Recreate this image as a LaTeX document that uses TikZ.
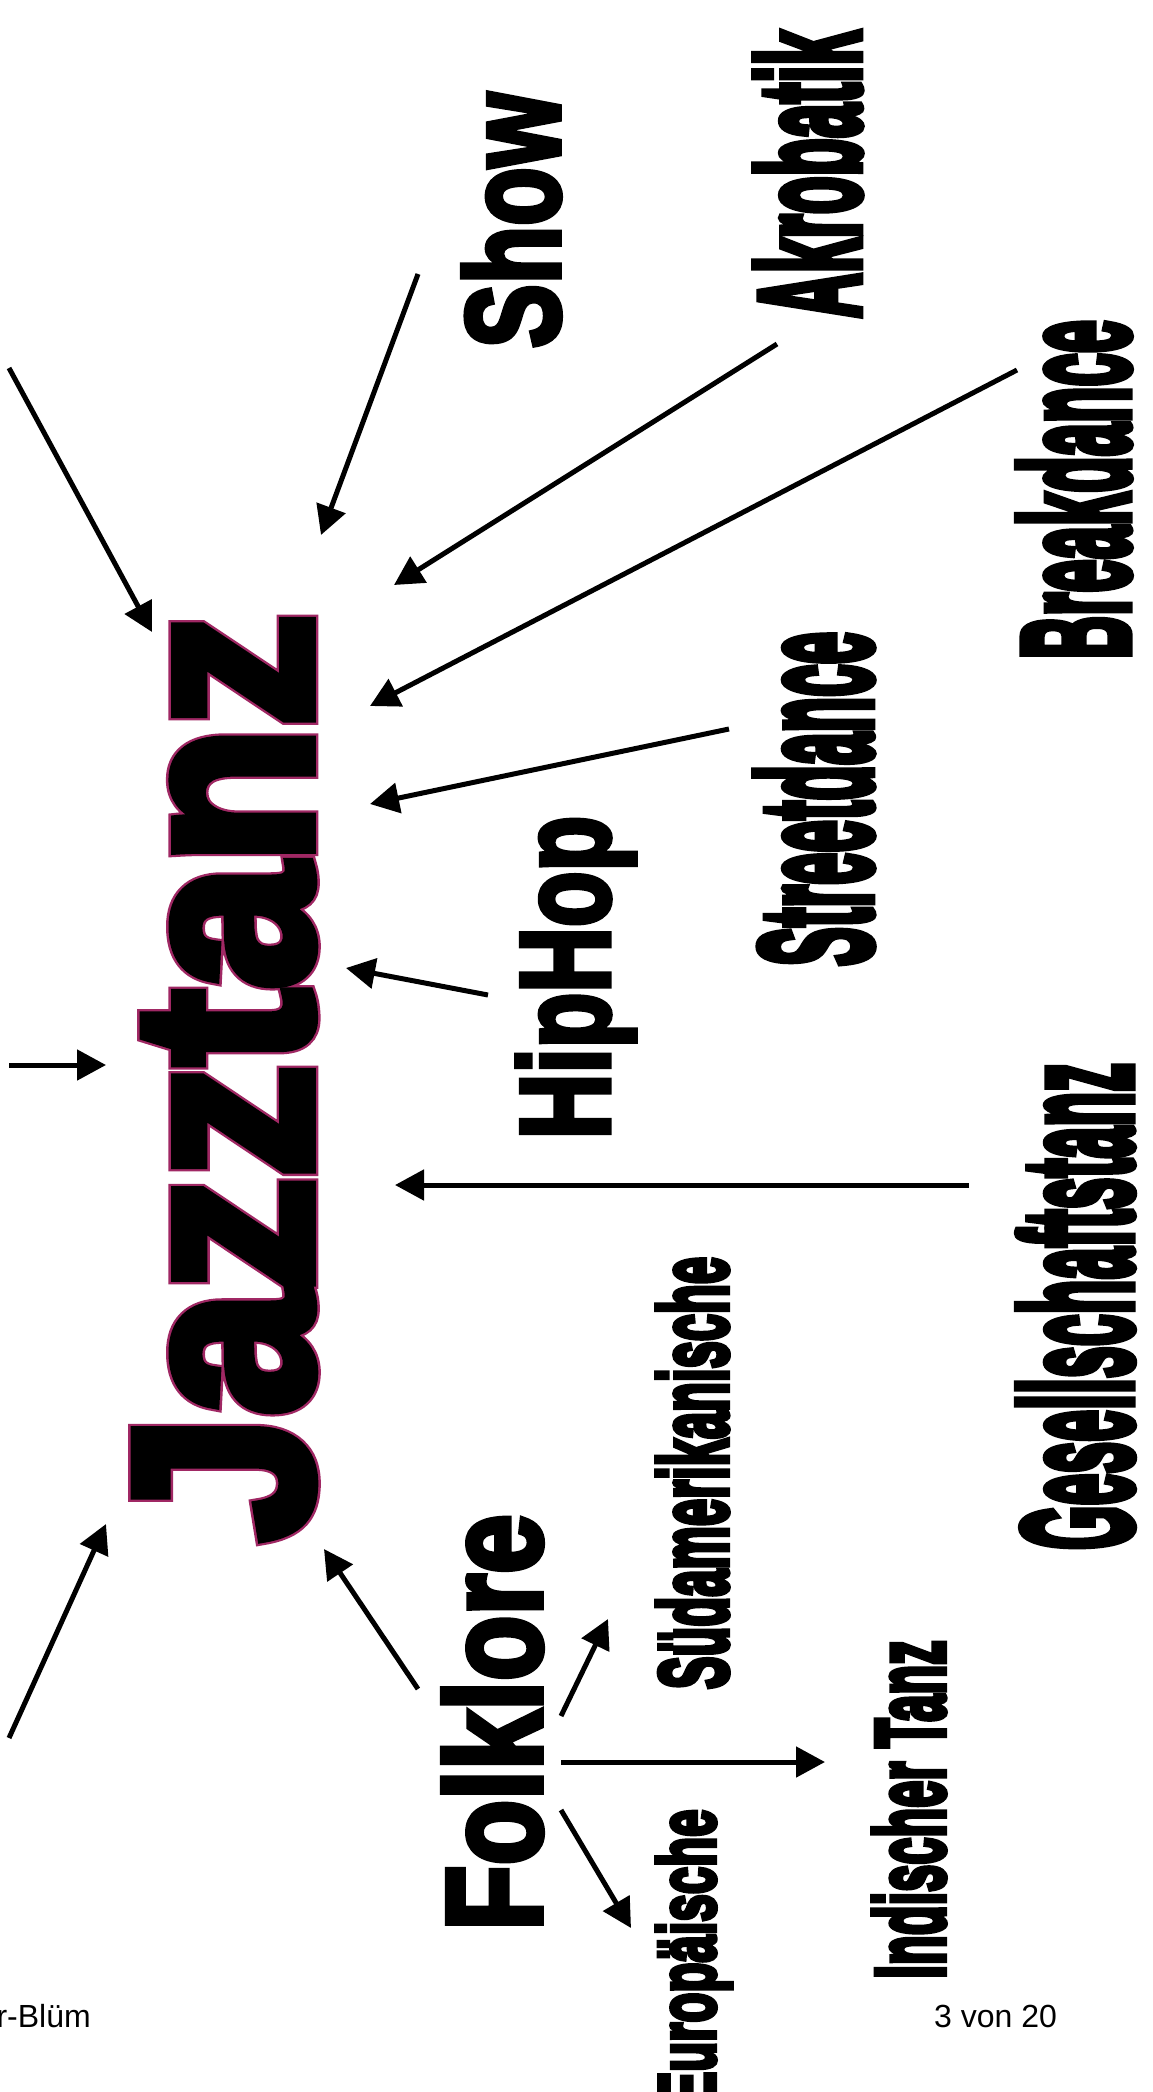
\documentclass[tikz,border=0pt]{standalone}
\usepackage{fontspec}
\usepackage{graphicx}
\usepackage{xcolor}
\setmainfont{Liberation Sans}
\newfontfamily\heavyfont{Liberation Sans}[BoldFeatures={FakeBold=4.5}]
\newfontfamily\rimfont{Liberation Sans}[BoldFeatures={FakeBold=6.5}]
\newfontfamily\narrowfont{Liberation Sans}[BoldFeatures={FakeBold=6}]
\usetikzlibrary{arrows.meta}
\definecolor{jazzrim}{RGB}{160,40,100}
\newcommand{\fitto}[3]{\resizebox*{#1pt}{#2pt}{#3}}

\begin{document}
\begin{tikzpicture}[x=1pt,y=-1pt,>={Triangle[length=29pt,width=30pt]},
  word/.style={rotate=90,inner sep=0pt,outer sep=0pt},
  link/.style={->,line width=5pt}]
  \useasboundingbox (0,0) rectangle (1152,2092);
  % main word, pink rim under black letters
  \node[word,text=jazzrim] (jazzrim) at (224.5,1077.5) {\rimfont\bfseries\fitto{926}{176}{Jazztanz}};
  \node[word] (jazz) at (224.5,1077.5) {\heavyfont\bfseries\fitto{926}{176}{Jazztanz}};
  \node[word] (show) at (511.5,220.5) {\heavyfont\bfseries\fitto{255}{97}{Show}};
  \node[word] (hiphop) at (576,977.5) {\heavyfont\bfseries\fitto{323}{118}{HipHop}};
  \node[word] (folklore) at (492.5,1722.5) {\heavyfont\bfseries\fitto{416}{99}{Folklore}};
  \node[word] (akro) at (808,174.5) {\narrowfont\bfseries\fitto{287}{105}{Akrobatik}};
  \node[word] (break) at (1074,489.5) {\narrowfont\bfseries\fitto{339}{111}{Breakdance}};
  \node[word] (street) at (814,799) {\narrowfont\bfseries\fitto{334}{116}{Streetdance}};
  \node[word] (gesell) at (1075.5,1306.5) {\narrowfont\bfseries\fitto{487}{114}{Gesellschaftstanz}};
  \node[word] (sued) at (692.5,1473) {\narrowfont\bfseries\fitto{432}{71}{Südamerikanische}};
  \node[word] (indisch) at (909,1809.5) {\narrowfont\bfseries\fitto{338}{72}{Indischer Tanz}};
  \node[word] (europa) at (694,1957) {\narrowfont\bfseries\fitto{295}{75}{Europäische}};
  % footer
  \node[anchor=base east,inner sep=0pt,font=\fontsize{32}{32}\selectfont] (author) at (91,2027) {r-Blüm};
  \node[anchor=base west,inner sep=0pt,font=\fontsize{32}{32}\selectfont] (page) at (934,2027) {3 von 20};
  % arrow ends
  \coordinate (offtop) at (9,368);
  \coordinate (offmid) at (9,1065);
  \coordinate (offlow) at (9,1738);
  \coordinate (showout) at (418,274);
  \coordinate (akroout) at (777,344);
  \coordinate (breakout) at (1017,370);
  \coordinate (streetout) at (729,729);
  \coordinate (hiphopout) at (488,995);
  \coordinate (gesellout) at (969,1185);
  \coordinate (folkup) at (418,1689);
  \coordinate (folkright) at (561,1716);
  \coordinate (folkmid) at (561,1762);
  \coordinate (folkdown) at (561,1810);
  \coordinate (jazztop) at (152,632);
  \coordinate (jazzshow) at (321,535);
  \coordinate (jazzakro) at (394,585);
  \coordinate (jazzbreak) at (370,706);
  \coordinate (jazzstreet) at (370,804);
  \coordinate (jazzhiphop) at (346,968);
  \coordinate (jazzmid) at (106,1065);
  \coordinate (jazzgesell) at (395,1185);
  \coordinate (jazzlow) at (106,1524);
  \coordinate (jazzfolk) at (324,1549);
  \coordinate (suedin) at (608,1619);
  \coordinate (indischin) at (825,1762);
  \coordinate (europain) at (631,1928);
  % arrows
  \draw[link] (offtop) -- (jazztop);
  \draw[link] (showout) -- (jazzshow);
  \draw[link] (akroout) -- (jazzakro);
  \draw[link] (breakout) -- (jazzbreak);
  \draw[link] (streetout) -- (jazzstreet);
  \draw[link] (hiphopout) -- (jazzhiphop);
  \draw[link] (offmid) -- (jazzmid);
  \draw[link] (gesellout) -- (jazzgesell);
  \draw[link] (offlow) -- (jazzlow);
  \draw[link] (folkup) -- (jazzfolk);
  \draw[link] (folkright) -- (suedin);
  \draw[link] (folkmid) -- (indischin);
  \draw[link] (folkdown) -- (europain);
\end{tikzpicture}
\end{document}
